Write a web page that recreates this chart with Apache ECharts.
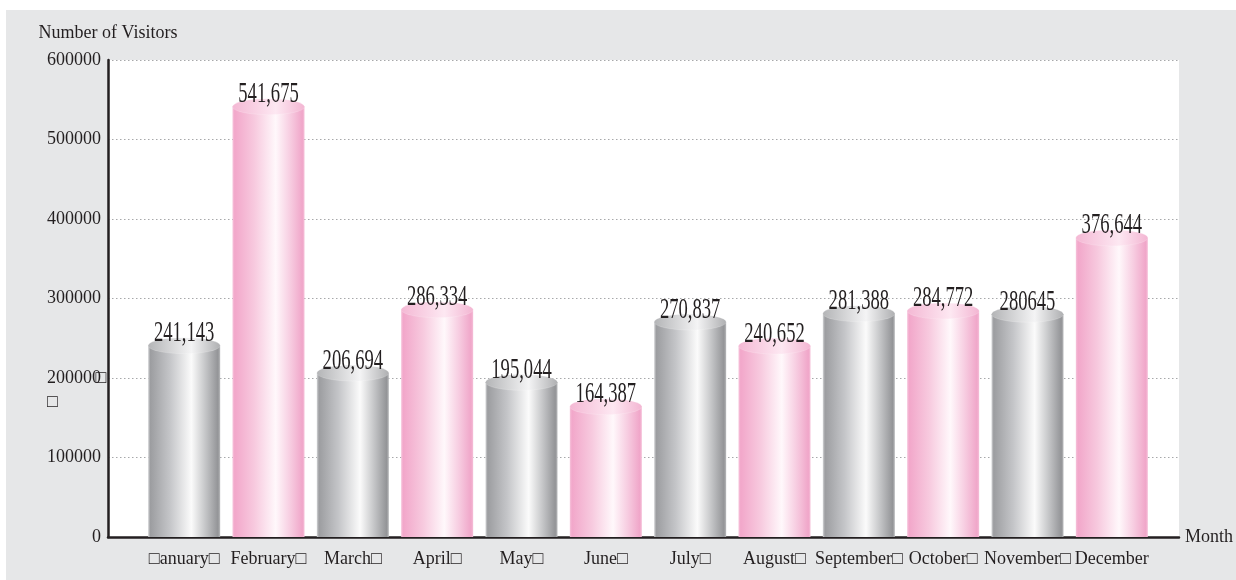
<!DOCTYPE html>
<html>
<head>
<meta charset="utf-8">
<script src="https://cdn.jsdelivr.net/npm/echarts@6/dist/echarts.min.js"></script>
<style>
html,body{margin:0;padding:0;background:#fff;}
#chart{width:1236px;height:580px;}
</style>
</head>
<body>
<div id="chart"></div>
<script>
const months = ['□anuary□','February□','March□','April□','May□','June□','July□','August□','September□','October□','November□','December'];
const visitors = [241143, 541675, 206694, 286334, 195044, 164387, 270837, 240652, 281388, 284772, 280645, 376644];
const valueLabels = ['241,143','541,675','206,694','286,334','195,044','164,387','270,837','240,652','281,388','284,772','280645','376,644'];
const yMin = 0, yMax = 600000, yStep = 100000;
const yAxisTitle = 'Number of Visitors';
const xAxisTitle = 'Month';

const FONT = '"Liberation Serif", "Times New Roman", serif';
const TXT = '#231f20';

function lin(stops){
  return new echarts.graphic.LinearGradient(0,0,1,0, stops.map(s=>({offset:s[0], color:s[1]})));
}
const greyBody = lin([[0,'#d2d3d5'],[0.03,'#9c9da0'],[0.3,'#c4c5c8'],[0.6,'#fbfbfb'],[0.8,'#c3c4c6'],[0.97,'#939497'],[1,'#b8b9bb']]);
const pinkBody = lin([[0,'#f6c3db'],[0.03,'#f2a7ca'],[0.3,'#f7c9de'],[0.6,'#fff8fb'],[0.8,'#f7cde1'],[0.97,'#f0a6c9'],[1,'#f5bfd8']]);
const greyTop = lin([[0,'#b3b4b6'],[0.6,'#f4f4f5'],[1,'#aeafb1']]);
const pinkTop = lin([[0,'#f4b8d4'],[0.6,'#fde8f2'],[1,'#f3b5d2']]);

const chart = echarts.init(document.getElementById('chart'), null, {renderer:'canvas'});
const option = {
  animation: false,
  backgroundColor: '#ffffff',
  graphic: [{type:'rect', shape:{x:6, y:10, width:1230, height:570}, style:{fill:'#e6e7e8'}, z:-100, silent:true}],
  grid: [
    {left:108, right:56, top:60, bottom:43, show:true, backgroundColor:'#ffffff', borderWidth:0, containLabel:false},
    {left:142, right:82, top:60, bottom:43, containLabel:false}
  ],
  xAxis: [
    {type:'value', gridIndex:0, min:0, max:1,
     axisLine:{show:true, onZero:true, lineStyle:{color:TXT, width:2.5}},
     axisTick:{show:false}, axisLabel:{show:false}, splitLine:{show:false},
     name: xAxisTitle, nameLocation:'end', nameGap:6,
     nameTextStyle:{color:TXT, fontSize:18, fontFamily:FONT}},
    {type:'category', gridIndex:1, data: months,
     axisLine:{show:false}, axisTick:{show:false},
     axisLabel:{color:TXT, fontSize:18, fontFamily:FONT, margin:13, interval:0}}
  ],
  yAxis: [
    {type:'value', gridIndex:0, min:yMin, max:yMax, interval:yStep,
     axisLine:{show:true, lineStyle:{color:TXT, width:2.5}},
     axisTick:{show:false},
     splitLine:{show:true, lineStyle:{color:'#a7a8aa', type:[1.5,2.5], width:1}},
     axisLabel:{color:TXT, fontSize:18, fontFamily:FONT, margin:7, lineHeight:24,
       formatter: v => v === 200000 ? '{e| }\n' + v + '{b|□}\n{b|□}' : String(v),
       rich:{e:{fontSize:18, lineHeight:24, fontFamily:FONT},
             b:{width:0, align:'left', fontSize:18, lineHeight:24, fontFamily:FONT, color:TXT}}},
     name: yAxisTitle, nameLocation:'end', nameGap:18,
     nameTextStyle:{color:TXT, fontSize:18, fontFamily:FONT}},
    {type:'value', gridIndex:1, min:yMin, max:yMax, interval:yStep, show:false,
     splitLine:{show:false}}
  ],
  series: [
    {type:'bar', xAxisIndex:1, yAxisIndex:1, barWidth:72,
     data: visitors.map((v,i)=>({value:v, itemStyle:{color: i%2===0 ? greyBody : pinkBody}})),
     z:3},
    {type:'pictorialBar', xAxisIndex:1, yAxisIndex:1, barWidth:72,
     symbol:'circle', symbolSize:[72,16], symbolPosition:'end', symbolOffset:[0,'-50%'],
     data: visitors.map((v,i)=>({value:v, itemStyle:{color: i%2===0 ? greyTop : pinkTop, borderColor:'#ffffff', borderWidth:1.5}})),
     z:4},
    {type:'custom', xAxisIndex:1, yAxisIndex:1, z:6,
     data: visitors.map((v,i)=>[i,v]),
     renderItem: (params, api) => {
       const p = api.coord([api.value(0), api.value(1)]);
       return {type:'text', x:p[0], y:p[1]+3, scaleX:0.62,
         style:{text: valueLabels[params.dataIndex], font:'30px ' + FONT, fill:TXT, align:'center', verticalAlign:'bottom'}};
     }}
  ]
};
chart.setOption(option);
</script>
</body>
</html>
